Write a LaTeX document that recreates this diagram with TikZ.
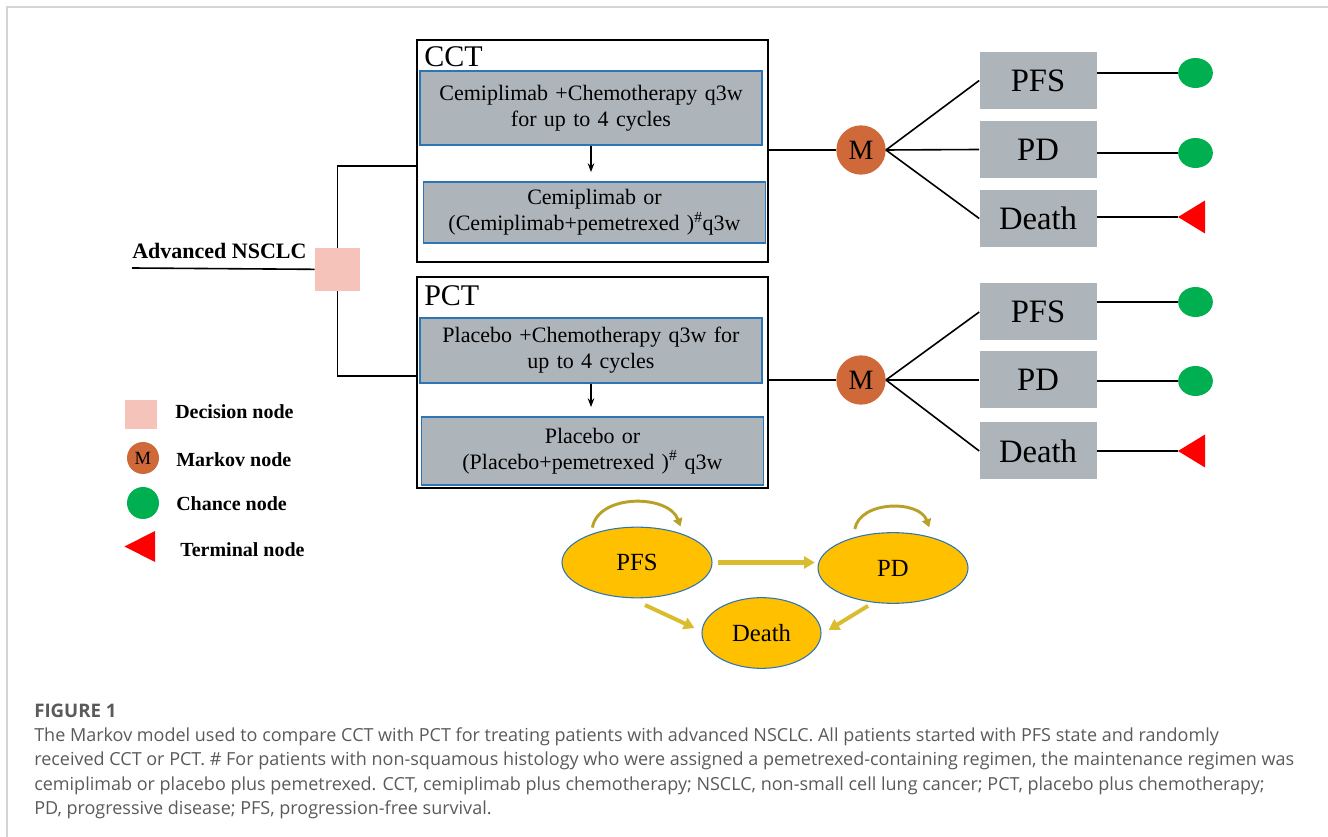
\documentclass[tikz,border=0pt]{standalone}
\usepackage{fontspec}
\setmainfont{Liberation Serif}
\setsansfont{Open Sans}
\usepackage{tikz}
\usetikzlibrary{
  arrows.meta, positioning, calc, shapes.geometric, fit
}
\usepackage{xcolor}
\definecolor{boxgray}{HTML}{AEB5BA}
\definecolor{edgeblue}{HTML}{2E75B6}
\definecolor{decpink}{HTML}{F6C3BA}
\definecolor{markovorange}{HTML}{D0693A}
\definecolor{chancegreen}{HTML}{00B050}
\definecolor{statefill}{HTML}{FFC000}
\definecolor{flowgold}{HTML}{D9BD2E}
\definecolor{captiongray}{HTML}{5A5A5A}
\definecolor{framegray}{HTML}{D4D4D4}

\begin{document}
\begin{tikzpicture}[
  x=0.75pt, y=-0.75pt,
  branch/.style={line width=1.2pt},
  outer/.style={draw, line width=1.5pt, inner sep=0pt},
  armlabel/.style={font=\fontsize{22.5}{26}\selectfont, inner sep=0pt},
  regimen/.style={draw=edgeblue, line width=0.9pt, fill=boxgray,
    text width=250pt, inner xsep=3.25pt, align=center,
    font=\fontsize{16.5}{19.5}\selectfont},
  decision/.style={fill=decpink, minimum width=33.75pt,
    minimum height=32pt, inner sep=0pt},
  markov/.style={circle, fill=markovorange, minimum size=37pt,
    inner sep=0pt, font=\fontsize{21}{24}\selectfont},
  stateb/.style={fill=boxgray, minimum width=87.75pt,
    minimum height=42.75pt, font=\fontsize{24.5}{28}\selectfont},
  chance/.style={ellipse, fill=chancegreen, minimum width=26pt,
    minimum height=22.5pt, inner sep=0pt},
  legend/.style={font=\fontsize{15}{18}\selectfont\bfseries, inner sep=0pt},
  mstate/.style={ellipse, draw=edgeblue, line width=0.8pt, fill=statefill,
    minimum width=112.5pt, minimum height=53pt, inner sep=0pt,
    font=\fontsize{18.5}{21}\selectfont},
  flow/.style={-{Triangle[length=8pt,width=9pt]}, line width=3.6pt,
    draw=flowgold},
  loopflow/.style={-{Triangle[length=6pt,width=7pt]}, line width=2.2pt,
    draw=flowgold!85!black},
  caption/.style={font=\sffamily\fontsize{13.5}{16}\selectfont,
    text=captiongray, inner sep=0pt},
  >=Stealth
]
  \useasboundingbox (0,0) rectangle (1328,837);
  % Frame
  \draw[framegray, line width=1.5pt] (7,837) -- (7,7) -- (1328,7);

  % Root and decision node
  \node[decision] (dec) at (337.5,269.5) {};
  \coordinate (root) at (132,268);
  \node[font=\fontsize{16.5}{19}\selectfont\bfseries, inner sep=0pt,
    anchor=base west] (rootlabel) at (132,259) {Advanced NSCLC};
  \draw[branch] (root) -- (dec);

  % Strategy boxes
  \node[outer, fit={(417,40) (768,262)}] (cct) {};
  \node[outer, fit={(417,277) (768,488)}] (pct) {};
  \node[armlabel, anchor=base west] (cctlabel) at (424,67) {CCT};
  \node[armlabel, anchor=base west] (pctlabel) at (424,306) {PCT};
  \draw[branch] (dec.north) |- ([yshift=-11.25pt]cct.west);
  \draw[branch] (dec.south) |- ([yshift=4.9pt]pct.west);

  \node[regimen, minimum height=55.5pt] (cct1) at (591,108)
    {Cemiplimab +Chemotherapy q3w\\for up to 4 cycles};
  \node[regimen, minimum height=45.75pt] (cct2) at (594.5,212.5)
    {Cemiplimab or\\(Cemiplimab+pemetrexed )\textsuperscript{\#}q3w};
  \node[regimen, minimum height=48.75pt] (pct1) at (591,350.5)
    {Placebo +Chemotherapy q3w for\\up to 4 cycles};
  \node[regimen, minimum height=51pt] (pct2) at (592.5,451)
    {Placebo or\\(Placebo+pemetrexed )\textsuperscript{\#} q3w};
  \draw[->, line width=0.8pt, shorten >=7pt] (cct1.south) -- (cct1.south |- cct2.north);
  \draw[->, line width=0.8pt, shorten >=7pt] (pct1.south) -- (pct1.south |- pct2.north);

  % Markov trees
  \foreach \arm/\my in {cct/150, pct/380} {
    \node[markov] (m\arm) at (861,\my) {M};
    \draw[branch] (\arm.east |- m\arm) -- (m\arm);
  }
  \foreach \arm/\name/\txt/\y in {cct/pfs/PFS/80.5, cct/pd/PD/149.5,
      cct/death/Death/218.5, pct/pfs/PFS/312, pct/pd/PD/380,
      pct/death/Death/451} {
    \node[stateb] (\arm-\name) at (1038,\y) {\txt};
    \draw[branch] (m\arm.east) -- (\arm-\name.west);
  }
  \foreach \arm/\name/\cy in {cct/pfs/73, cct/pd/153, pct/pfs/302, pct/pd/381} {
    \node[chance] (c\arm\name) at (1195.5,\cy) {};
    \draw[branch] (\arm-\name.east |- c\arm\name) -- (c\arm\name);
  }
  \foreach \arm/\cy in {cct/217, pct/451} {
    \coordinate (t\arm) at (1178,\cy);
    \fill[red] (t\arm) -- ++(27,-16.5) -- ++(0,33) -- cycle;
    \draw[branch] (\arm-death.east |- t\arm) -- (t\arm);
  }

  % Legend
  \node[decision, minimum width=24pt, minimum height=22pt] (legdec) at (141,414.5) {};
  \node[markov, minimum size=24pt, font=\fontsize{14}{15}\selectfont]
    (legm) at (143,458) {M};
  \node[chance, minimum width=24pt, minimum height=24pt] (legc) at (143,503) {};
  \coordinate (legt) at (124.5,546.5);
  \fill[red] (legt) -- ++(30.5,-15.5) -- ++(0,31) -- cycle;
  \node[legend, anchor=west] (legdecl) at (175,412) {Decision node};
  \node[legend, anchor=west] (legml) at (176,460) {Markov node};
  \node[legend, anchor=west] (legcl) at (176,504) {Chance node};
  \node[legend, anchor=west] (legtl) at (180,550) {Terminal node};

  % State transitions
  \node[mstate] (sPFS) at (637,562.5) {PFS};
  \node[mstate] (sPD) at (893,568) {PD};
  \node[mstate, minimum width=89.25pt] (sDeath) at (761.5,633) {Death};
  \draw[flow, shorten <=3.75pt, shorten >=2pt] (sPFS.east) -- (sPFS.east -| sPD.west);
  \draw[flow, line width=3pt]
    ([xshift=6pt,yshift=-5pt]sPFS.south) -- ([xshift=-5.25pt,yshift=3.75pt]sDeath.west);
  \draw[flow, line width=3pt]
    ([xshift=-18.75pt,yshift=-1.5pt]sPD.south) -- ([xshift=5.25pt,yshift=2.25pt]sDeath.east);
  \draw[loopflow] ([yshift=4.5pt]sPFS.147) to[out=80, in=110] ([yshift=5pt]sPFS.34);
  \draw[loopflow] ([yshift=6pt]sPD.141) to[out=80, in=110] ([yshift=7pt]sPD.41);

  % Caption
  \node[caption, font=\sffamily\bfseries\fontsize{14}{16}\selectfont,
    anchor=base west] (figlabel) at (34,717) {FIGURE 1};
  \node[caption, anchor=base west] (cap1) at (34,741)
    {The Markov model used to compare CCT with PCT for treating patients with advanced NSCLC. All patients started with PFS state and randomly};
  \node[caption, anchor=base west] (cap2) at (34,765.5)
    {received CCT or PCT. \# For patients with non-squamous histology who were assigned a pemetrexed-containing regimen, the maintenance regimen was};
  \node[caption, anchor=base west] (cap3) at (34,790)
    {cemiplimab or placebo plus pemetrexed. CCT, cemiplimab plus chemotherapy; NSCLC, non-small cell lung cancer; PCT, placebo plus chemotherapy;};
  \node[caption, anchor=base west] (cap4) at (34,814)
    {PD, progressive disease; PFS, progression-free survival.};
\end{tikzpicture}
\end{document}
